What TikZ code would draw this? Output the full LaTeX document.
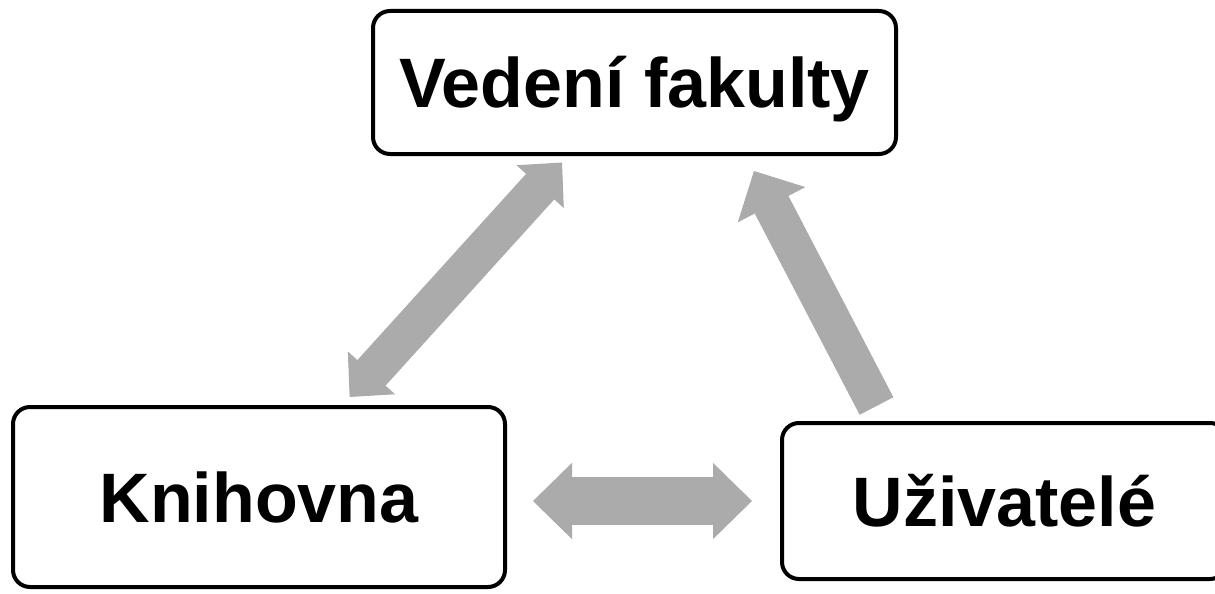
\documentclass[tikz,border=0pt]{standalone}
\usepackage{fontspec}
\setmainfont{Liberation Sans}
\usetikzlibrary{arrows.meta}
\definecolor{arrowgray}{RGB}{171,171,171}
\begin{document}
\begin{tikzpicture}[x=1pt,y=-1pt,
  box/.style={draw=black, line width=4pt, rounded corners=17pt, fill=white,
    font=\fontsize{70}{80}\selectfont\bfseries, text height=50pt, text depth=0pt,
    inner sep=0pt, anchor=center},
  blockarrow/.style={draw=arrowgray, line cap=butt}
]
\useasboundingbox (0,0) rectangle (1215,594);
\clip (0,0) rectangle (1215,594);
\fill[white] (0,0) rectangle (1215,594);

\node[box, minimum width=523pt, minimum height=143pt] (ved) at (634.5,82.5) {Vedení fakulty};
\node[box, minimum width=492pt, minimum height=180pt] (kn) at (259,497) {Knihovna};
\node[box, minimum width=445pt, minimum height=156pt] (uz) at (1004.5,501) {Uživatelé};

\coordinate (h1) at (533,501);
\coordinate (h2) at (752,501);
\coordinate (ua) at (876.5,406);
\coordinate (va) at (754,171);

% Knihovna <-> Vedeni
\draw[blockarrow, line width=38pt, shorten <=135pt, shorten >=108pt,
  {Triangle[length=32.5pt,width=63.5pt,line width=1.2pt]}-{Triangle[length=32.5pt,width=63.5pt,line width=1.2pt]}]
  (kn.center) -- (ved.center);
% Uzivatele -> Vedeni
\draw[blockarrow, line width=38pt,
  -{Triangle[length=38pt,width=76pt,line width=1.2pt]}]
  (ua) -- (va);
% Knihovna <-> Uzivatele
\draw[blockarrow, line width=48pt,
  {Triangle[length=39pt,width=76pt,line width=1.2pt]}-{Triangle[length=39pt,width=76pt,line width=1.2pt]}]
  (h1) -- (h2);
\end{tikzpicture}
\end{document}
